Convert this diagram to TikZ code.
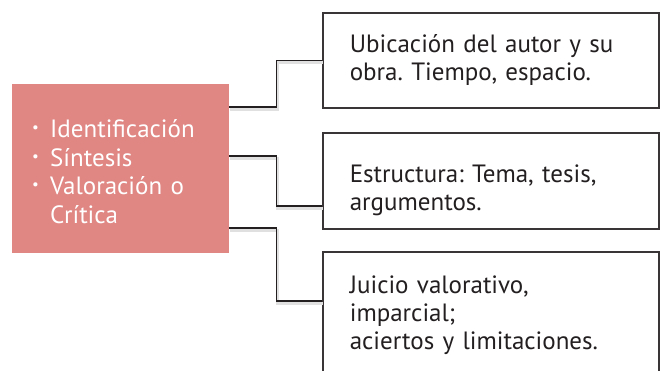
\documentclass[tikz,border=0pt]{standalone}
\usepackage{fontspec}
\setmainfont{PT Sans}
\usetikzlibrary{positioning}
\definecolor{rosa}{RGB}{224,134,131}
\definecolor{tinta}{RGB}{35,31,32}
\newcommand{\punto}{\makebox[18pt][l]{\raisebox{5pt}{\fontsize{15}{15}\selectfont\textbullet}}}
\frenchspacing

\begin{document}
\begin{tikzpicture}[x=1pt,y=-1pt]

\tikzstyle{box}=[draw=tinta!90,line width=1.6pt,fill=white,anchor=north west,
  minimum width=336pt,text width=282pt,inner xsep=27pt,align=left,
  font=\fontsize{25}{28}\selectfont,text=tinta]
\tikzstyle{main box}=[fill=rosa,anchor=north west,minimum width=217pt,
  minimum height=169pt,text width=177pt,inner xsep=20pt,align=left,
  text height=24pt,
  font=\fontsize{25}{28.7}\selectfont,text=white]
\tikzstyle{link}=[draw=tinta,line width=1.6pt,
  preaction={draw=black!12,line width=3pt,transform canvas={shift={(1pt,-2.5pt)}}}]

\clip(0,0)rectangle(664,370);

\node[main box](main)at(12,84){\punto Identificación\\\punto Síntesis\\
  \punto Valoración o\\\hspace*{18pt}Crítica};

\node[box,minimum height=95pt](b1)at(322,12){Ubicación del autor y su\\obra. Tiempo, espacio.};
\node[box,minimum height=96pt,text height=36pt](b2)at(322,132){Estructura: Tema, tesis,\\argumentos.};
\node[box,minimum height=126pt](b3)at(322,251){Juicio valorativo,\\imparcial;\\aciertos y limitaciones.};

\draw[link]([yshift=-23pt]main.north east)--++(47,0)|-(b1.west);
\draw[link]([yshift=-72pt]main.north east)--++(47,0)|-([yshift=-25pt]b2.west);
\draw[link]([yshift=-144pt]main.north east)--++(47,0)|-([yshift=14pt]b3.west);

\end{tikzpicture}
\end{document}
